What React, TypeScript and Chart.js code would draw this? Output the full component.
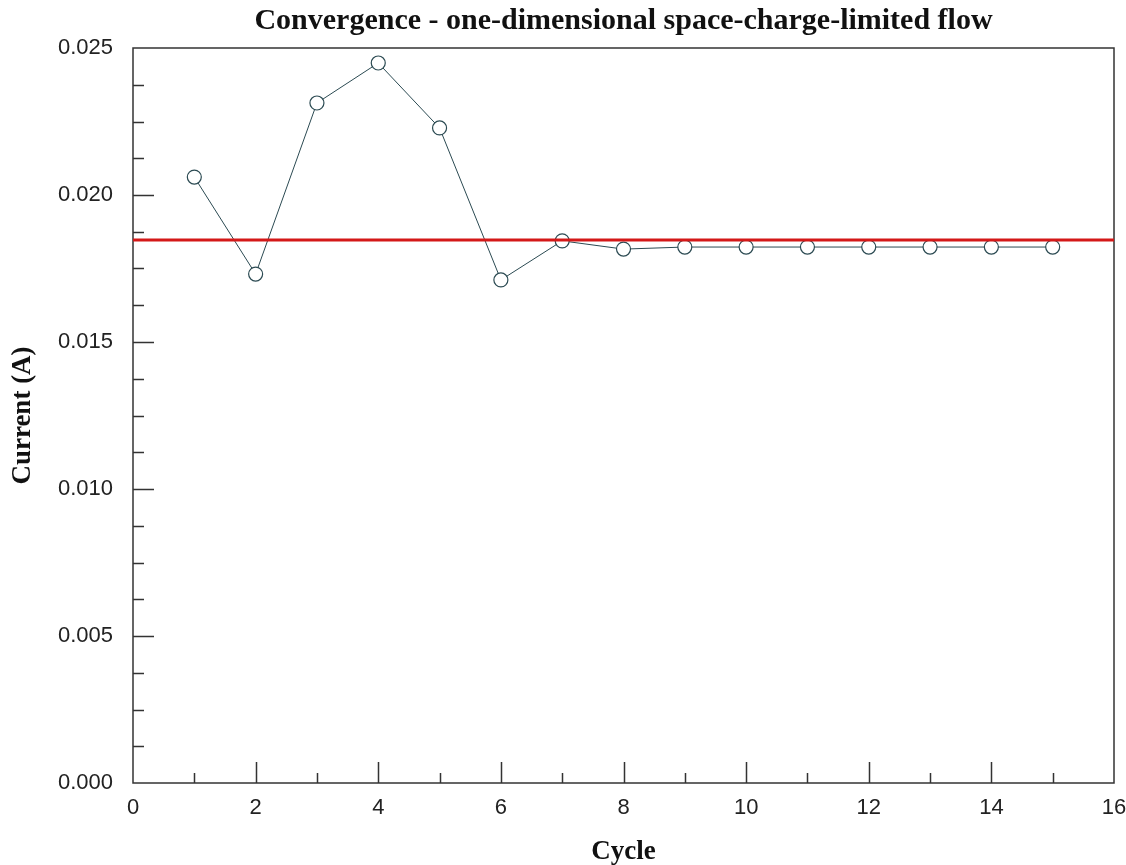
import React, { useEffect, useRef } from "react";
import { Chart, registerables } from "chart.js";

Chart.register(...registerables);

// Iteration number and the emitted current after each cycle
const cycles = [1, 2, 3, 4, 5, 6, 7, 8, 9, 10, 11, 12, 13, 14, 15];
const currents = [
  0.02061, 0.01731, 0.02313, 0.02449, 0.02228, 0.01711, 0.01844, 0.01816,
  0.01823, 0.01823, 0.01823, 0.01823, 0.01823, 0.01823, 0.01823,
];

// Child-Langmuir reference current drawn across the whole range
const referenceCurrent = 0.01847;
const referenceSpan = [0, 16];

// Axis ranges and tick spacing
const xRange = [0, 16];
const xMajorStep = 2;
const xMinorStep = 1;
const yRange = [0, 0.025];
const yMajorStep = 0.005;
const yMinorStep = 0.00125;

const titleText = "Convergence - one-dimensional space-charge-limited flow";
const xTitle = "Cycle";
const yTitle = "Current (A)";

const serif = "'Liberation Serif', 'Times New Roman', serif";
const sans = "'Liberation Sans', Arial, sans-serif";
const frameColor = "#333333";
const seriesColor = "#2b4a52";
const referenceColor = "#d41818";

// Chart heading, centred over the plot box
const headingPlugin = {
  id: "heading",
  afterDraw(chart: any) {
    const { ctx, chartArea } = chart;
    ctx.save();
    ctx.fillStyle = "#111111";
    ctx.font = `bold 30px ${serif}`;
    ctx.textAlign = "center";
    ctx.textBaseline = "alphabetic";
    ctx.fillText(titleText, (chartArea.left + chartArea.right) / 2, 29);
    ctx.restore();
  },
};

// Box around the plot with inward-pointing major and minor ticks
const framePlugin = {
  id: "frameTicks",
  beforeDatasetsDraw(chart: any) {
    const { ctx, chartArea } = chart;
    const xs = chart.scales.x;
    const ys = chart.scales.y;
    const { left, right, top, bottom } = chartArea;
    ctx.save();
    ctx.strokeStyle = frameColor;
    ctx.lineWidth = 1.5;
    ctx.strokeRect(left, top, right - left, bottom - top);
    ctx.beginPath();
    const nx = Math.round((xRange[1] - xRange[0]) / xMinorStep);
    for (let i = 1; i < nx; i++) {
      const v = xRange[0] + i * xMinorStep;
      const major = Math.abs(v / xMajorStep - Math.round(v / xMajorStep)) < 1e-9;
      const px = Math.round(xs.getPixelForValue(v)) + 0.5;
      ctx.moveTo(px, bottom);
      ctx.lineTo(px, bottom - (major ? 21 : 10));
    }
    const ny = Math.round((yRange[1] - yRange[0]) / yMinorStep);
    for (let i = 1; i < ny; i++) {
      const v = yRange[0] + i * yMinorStep;
      const major = Math.abs(v / yMajorStep - Math.round(v / yMajorStep)) < 1e-9;
      const py = Math.round(ys.getPixelForValue(v)) + 0.5;
      ctx.moveTo(left, py);
      ctx.lineTo(left + (major ? 21 : 11), py);
    }
    ctx.stroke();
    ctx.restore();
  },
};

export default function App() {
  const canvasRef = useRef<HTMLCanvasElement | null>(null);

  useEffect(() => {
    const canvas = canvasRef.current;
    if (!canvas) return;
    const tickFont = { family: sans, size: 22 };
    const axisTitleFont = { family: serif, size: 27, weight: "bold" as const };
    const chart = new Chart(canvas, {
      type: "line",
      data: {
        datasets: [
          {
            label: "reference",
            data: referenceSpan.map((x) => ({ x, y: referenceCurrent })),
            borderColor: referenceColor,
            borderWidth: 3,
            pointRadius: 0,
            fill: false,
          },
          {
            label: "current",
            data: cycles.map((c, i) => ({ x: c, y: currents[i] })),
            borderColor: seriesColor,
            borderWidth: 1,
            pointRadius: 7,
            pointBorderWidth: 1.2,
            pointBorderColor: seriesColor,
            pointBackgroundColor: "#ffffff",
            fill: false,
            tension: 0,
          },
        ],
      },
      options: {
        responsive: false,
        animation: false,
        events: [],
        layout: { padding: { left: 0, right: 0, top: 48, bottom: 0 } },
        plugins: {
          legend: { display: false },
          tooltip: { enabled: false },
          title: { display: false },
        },
        scales: {
          x: {
            type: "linear",
            min: xRange[0],
            max: xRange[1],
            grid: { display: false, tickLength: 0 },
            border: { display: false },
            ticks: {
              stepSize: xMajorStep,
              color: "#222222",
              font: tickFont,
              padding: 12,
              maxRotation: 0,
            },
            title: {
              display: true,
              text: xTitle,
              color: "#111111",
              font: axisTitleFont,
              padding: { top: 0, bottom: -3 },
            },
            afterFit(scale: any) {
              scale.height = 82;
              scale.paddingLeft = 0;
              scale.paddingRight = 12;
            },
          },
          y: {
            type: "linear",
            min: yRange[0],
            max: yRange[1],
            grid: { display: false, tickLength: 0 },
            border: { display: false },
            ticks: {
              stepSize: yMajorStep,
              color: "#222222",
              font: tickFont,
              padding: 20,
              callback: (v: any) => Number(v).toFixed(3),
            },
            title: {
              display: true,
              text: yTitle,
              color: "#111111",
              font: axisTitleFont,
              padding: { top: 7, bottom: 0 },
            },
            afterFit(scale: any) {
              scale.width = 133;
            },
          },
        },
      },
      plugins: [framePlugin, headingPlugin],
    });
    return () => chart.destroy();
  }, []);

  return (
    <div style={{ position: "fixed", left: 0, top: 0, width: 1126, height: 865, background: "#ffffff" }}>
      <canvas ref={canvasRef} width={1126} height={865} />
    </div>
  );
}
